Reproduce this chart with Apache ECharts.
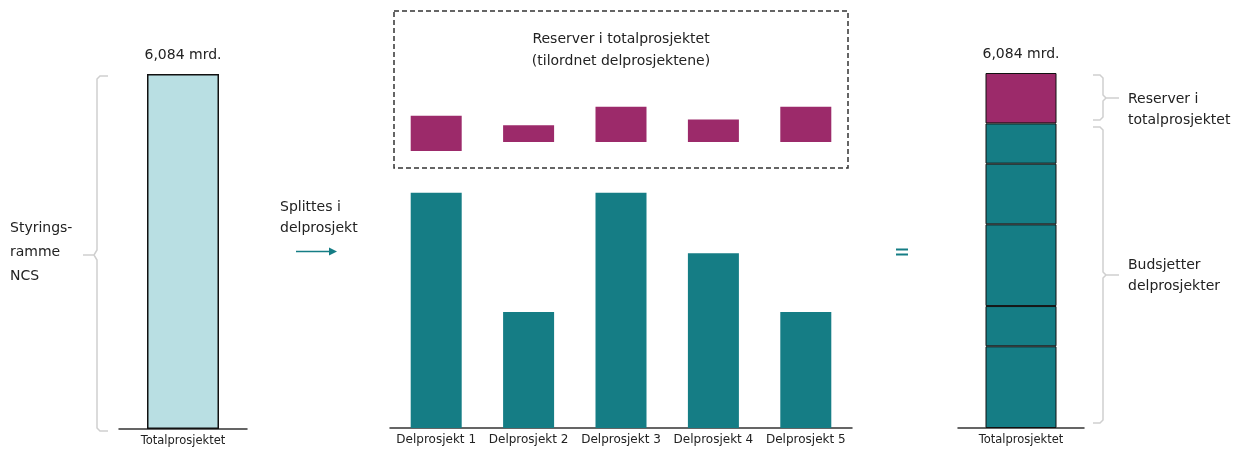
<!DOCTYPE html>
<html>

<head>
  <meta charset="utf-8">
  <title>Styringsramme og delprosjekter</title>
  <script type="text/javascript" src="https://cdn.jsdelivr.net/npm/echarts@6/dist/echarts.min.js"></script>
  <style>
    html,body {
      margin: 0;
      padding: 0;
      background: #fff;
    }
  </style>
</head>

<body>
  <div id="main" style="width: 1246px;height:450px;"></div>
  <script>
    // data (mrd. kr)
    var totalCategory = ['Totalprosjektet'];
    var categories = ['Delprosjekt 1', 'Delprosjekt 2', 'Delprosjekt 3', 'Delprosjekt 4', 'Delprosjekt 5'];
    var budgets = [1.40, 0.69, 1.40, 1.04, 0.69];
    var reserves = [0.21, 0.10, 0.21, 0.134, 0.21];
    // Delprosjekt 1 reserve sits a little lower than the others
    var reserveLift = [0, 0.054, 0.054, 0.054, 0.054];

    var sum = function (a) { return a.reduce(function (s, v) { return s + v; }, 0); };
    var reserveTotal = sum(reserves);
    var total = sum(budgets) + reserveTotal;
    var totalText = total.toFixed(3).replace('.', ',') + ' mrd.';

    var TEAL = '#157d85';
    var PURPLE = '#9c2a6a';
    var LIGHT = '#b9dfe3';
    var FONT = '"DejaVu Sans"';
    var GRAY = '#cfcfcf';

    var chart = echarts.init(document.getElementById('main'));

    function hiddenY(idx, max) {
      return { gridIndex: idx, type: 'value', min: 0, max: max, show: false };
    }
    function catX(idx, data, showAxis) {
      return {
        gridIndex: idx, type: 'category', data: data,
        axisTick: { show: false },
        axisLine: { show: showAxis, lineStyle: { color: '#333', width: 1.5 } },
        axisLabel: { show: showAxis, interval: 0, color: '#222', fontFamily: FONT, fontSize: idx === 1 ? 12 : 11.5, margin: 6 }
      };
    }
    function sideText(x, y, t) {
      return { type: 'text', x: x, y: y, style: { text: t, fill: '#222', font: '14px ' + FONT, textVerticalAlign: 'middle' } };
    }

    var option = {
      animation: false,
      grid: [
        { left: 119, width: 128, top: 74, height: 355 },
        { left: 390, width: 462, top: 92, height: 336 },
        { left: 390, width: 462, top: 67, height: 84 },
        { left: 958, width: 126, top: 73, height: 355 }
      ],
      xAxis: [
        catX(0, totalCategory, true),
        catX(1, categories, true),
        catX(2, categories, false),
        catX(3, totalCategory, true)
      ],
      yAxis: [hiddenY(0, total), hiddenY(1, 2), hiddenY(2, 0.5), hiddenY(3, total)],
      series: [
        {
          type: 'bar', xAxisIndex: 0, yAxisIndex: 0, barWidth: 72,
          data: [total],
          itemStyle: { color: LIGHT, borderColor: '#111', borderWidth: 1.5 },
          label: { show: true, position: 'top', distance: 12, color: '#222', fontFamily: FONT, fontSize: 14, formatter: totalText }
        },
        {
          type: 'bar', xAxisIndex: 1, yAxisIndex: 1, barWidth: 51,
          data: budgets,
          itemStyle: { color: TEAL }
        },
        {
          type: 'bar', xAxisIndex: 2, yAxisIndex: 2, stack: 'res', barWidth: 51,
          data: reserveLift,
          itemStyle: { color: 'transparent' }
        },
        {
          type: 'bar', xAxisIndex: 2, yAxisIndex: 2, stack: 'res', barWidth: 51,
          data: reserves,
          itemStyle: { color: PURPLE }
        }
      ].concat(budgets.map(function (v) {
        return {
          type: 'bar', xAxisIndex: 3, yAxisIndex: 3, stack: 'r', barWidth: 71,
          data: [v],
          itemStyle: { color: TEAL, borderColor: '#111', borderWidth: 1 }
        };
      })).concat([{
        type: 'bar', xAxisIndex: 3, yAxisIndex: 3, stack: 'r', barWidth: 71,
        data: [reserveTotal],
        itemStyle: { color: PURPLE, borderColor: '#111', borderWidth: 1 },
        label: { show: true, position: 'top', distance: 12, color: '#222', fontFamily: FONT, fontSize: 14, formatter: totalText }
      }]),
      graphic: [
        // dashed box round the reserves
        {
          type: 'rect', shape: { x: 394, y: 11, width: 454, height: 157 },
          style: { fill: 'none', stroke: '#333', lineWidth: 1.5, lineDash: [5, 3] }
        },
        {
          type: 'text', x: 621, y: 39,
          style: { text: 'Reserver i totalprosjektet', fill: '#222', font: '14px ' + FONT, textAlign: 'center', textVerticalAlign: 'middle' }
        },
        {
          type: 'text', x: 621, y: 61,
          style: { text: '(tilordnet delprosjektene)', fill: '#222', font: '14px ' + FONT, textAlign: 'center', textVerticalAlign: 'middle' }
        },
        // left brace
        {
          type: 'polyline', shape: { points: [[108, 76], [100, 76], [97, 79], [97, 250], [94, 255], [83, 255], [94, 255], [97, 260], [97, 428], [100, 431], [108, 431]] },
          style: { fill: 'none', stroke: GRAY, lineWidth: 1.5 }
        },
        sideText(10, 228, 'Styrings-'),
        sideText(10, 252, 'ramme'),
        sideText(10, 276, 'NCS'),
        // arrow
        sideText(280, 207, 'Splittes i'),
        sideText(280, 228, 'delprosjekt'),
        {
          type: 'line', shape: { x1: 296, y1: 251.5, x2: 330, y2: 251.5 },
          style: { stroke: TEAL, lineWidth: 1.5 }
        },
        {
          type: 'polygon', shape: { points: [[329, 247.5], [337, 251.5], [329, 255.5]] },
          style: { fill: TEAL }
        },
        // equals sign
        { type: 'rect', shape: { x: 896, y: 248.5, width: 12, height: 2 }, style: { fill: TEAL } },
        { type: 'rect', shape: { x: 896, y: 253.5, width: 12, height: 2 }, style: { fill: TEAL } },
        // right braces
        {
          type: 'polyline', shape: { points: [[1093, 75], [1100, 75], [1103, 78], [1103, 95], [1106, 98], [1119, 98], [1106, 98], [1103, 101], [1103, 117], [1100, 120], [1093, 120]] },
          style: { fill: 'none', stroke: GRAY, lineWidth: 1.5 }
        },
        sideText(1128, 99, 'Reserver i'),
        sideText(1128, 120, 'totalprosjektet'),
        {
          type: 'polyline', shape: { points: [[1093, 127], [1100, 127], [1103, 130], [1103, 272], [1106, 275], [1119, 275], [1106, 275], [1103, 278], [1103, 420], [1100, 423], [1093, 423]] },
          style: { fill: 'none', stroke: GRAY, lineWidth: 1.5 }
        },
        sideText(1128, 265, 'Budsjetter'),
        sideText(1128, 286, 'delprosjekter')
      ]
    };
    chart.setOption(option);
  </script>
</body>

</html>
